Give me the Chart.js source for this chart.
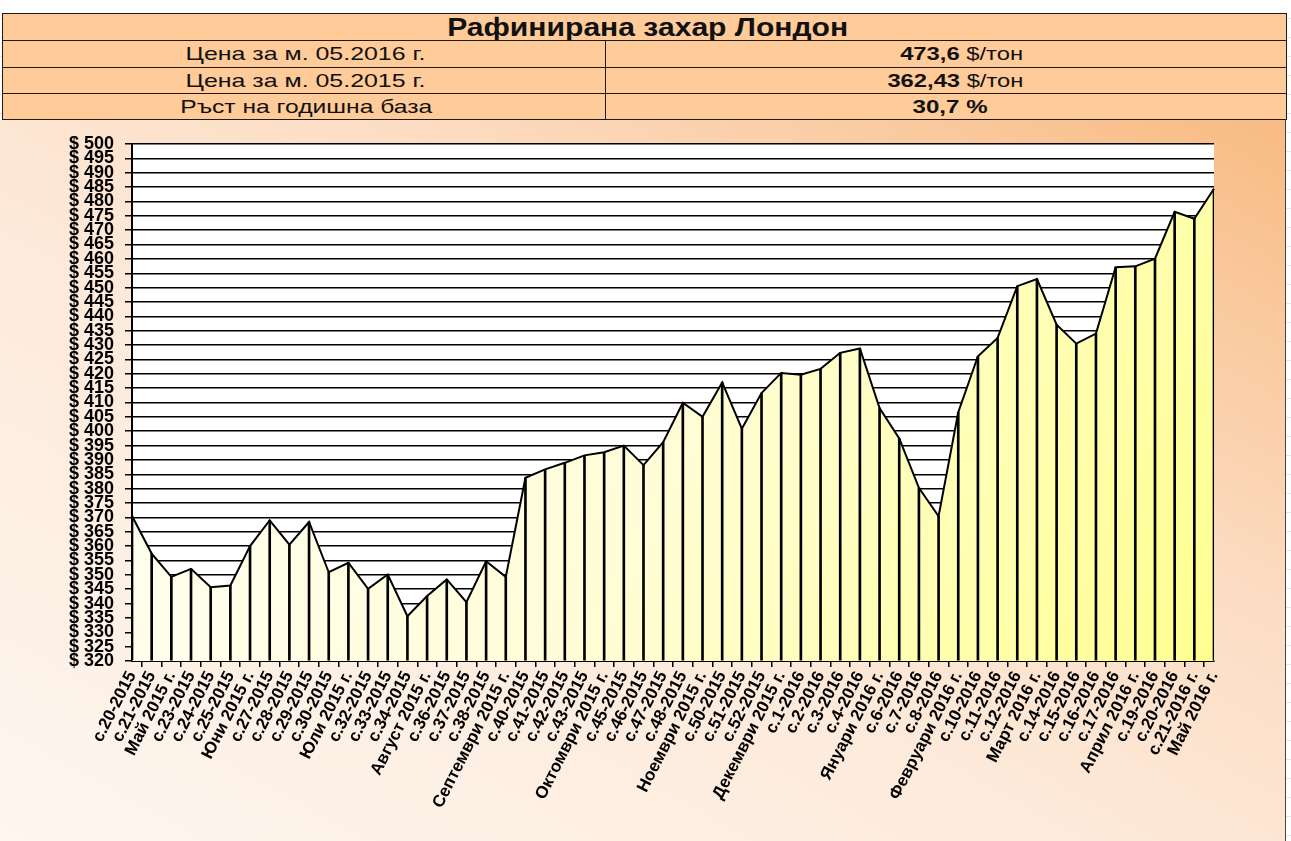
<!DOCTYPE html>
<html><head><meta charset="utf-8">
<script src="https://cdn.jsdelivr.net/npm/chart.js@4.4.1/dist/chart.umd.min.js"></script>
<style>
html,body{margin:0;padding:0;width:1291px;height:841px;overflow:hidden;font-family:"Liberation Sans",Arial,sans-serif;}
body{background:repeating-linear-gradient(to bottom,#fff 0,#fff 18px,#e6e6e6 18px,#e6e6e6 19px);}
.cell{position:absolute;box-sizing:border-box;background:#FFCB99;border:1px solid #1a1a1a;display:flex;align-items:center;justify-content:center;color:#111;overflow:visible;}
.cell span{display:inline-block;white-space:nowrap;transform-origin:center center;}
#wrap{position:absolute;left:0;top:120px;width:1285px;height:721px;border-right:1px solid #444;
 background:linear-gradient(to top right,#FEF6EF 0%,#FDEBDC 40%,#FCDDC4 65%,#F8BB82 100%);}
#c{position:absolute;left:0;top:0;}
</style></head>
<body>
<div class="cell" style="left:2px;top:13px;width:1285px;height:28px;font-weight:bold;font-size:25px;"><span data-x1="447" data-x2="848">Рафинирана захар Лондон</span></div>
<div class="cell" style="left:2px;top:40px;width:604px;height:28px;font-size:19px;"><span data-x1="185" data-x2="425">Цена за м. 05.2016 г.</span></div>
<div class="cell" style="left:605px;top:40px;width:682px;height:28px;font-size:19px;"><span data-x1="900" data-x2="1023"><b>473,6</b> $/тон</span></div>
<div class="cell" style="left:2px;top:67px;width:604px;height:27px;font-size:19px;"><span data-x1="185" data-x2="425">Цена за м. 05.2015 г.</span></div>
<div class="cell" style="left:605px;top:67px;width:682px;height:27px;font-size:19px;"><span data-x1="887" data-x2="1023"><b>362,43</b> $/тон</span></div>
<div class="cell" style="left:2px;top:93px;width:604px;height:27px;font-size:19px;"><span data-x1="180" data-x2="432">Ръст на годишна база</span></div>
<div class="cell" style="left:605px;top:93px;width:682px;height:27px;font-size:19px;"><span data-x1="913" data-x2="988"><b>30,7 %</b></span></div>
<div id="wrap"><canvas id="c" width="1285" height="721"></canvas></div>
<script>
const categories = [
 "с.20-2015","с.21-2015","Май 2015 г.","с.23-2015","с.24-2015","с.25-2015","Юни 2015 г.",
 "с.27-2015","с.28-2015","с.29-2015","с.30-2015","Юли 2015 г.","с.32-2015","с.33-2015",
 "с.34-2015","Август 2015 г.","с.36-2015","с.37-2015","с.38-2015","Септември 2015 г.",
 "с.40-2015","с.41-2015","с.42-2015","с.43-2015","Октомври 2015 г.","с.45-2015","с.46-2015",
 "с.47-2015","с.48-2015","Ноември 2015 г.","с.50-2015","с.51-2015","с.52-2015","Декември 2015 г.",
 "с.1-2016","с.2-2016","с.3-2016","с.4-2016","Януари 2016 г.","с.6-2016","с.7-2016","с.8-2016",
 "Февруари 2016 г.","с.10-2016","с.11-2016","с.12-2016","Март 2016 г.","с.14-2016","с.15-2016",
 "с.16-2016","с.17-2016","Април 2016 г.","с.19-2016","с.20-2016","с.21-2016 г.","Май 2016 г."
];
const prices = [
 370.5,357.4,349.3,352.1,345.7,346.3,360.0,369.0,360.5,368.4,350.9,354.2,345.1,350.1,
 335.6,342.6,348.4,340.5,354.7,349.3,383.8,386.7,389.0,391.6,392.7,395.0,388.2,396.2,
 409.9,405.0,417.0,400.9,413.3,420.3,419.7,421.7,427.3,428.8,408.1,397.5,380.3,370.4,
 406.6,426.1,432.5,450.5,453.0,437.1,430.5,434.0,457.1,457.4,460.1,476.4,474.0,484.4
];
const yMin = 320, yMax = 500, yStep = 5;
const FONT = "'Liberation Sans', Arial, sans-serif";

document.querySelectorAll('.cell span').forEach(s=>{
  const r = s.getBoundingClientRect();
  const x1 = +s.dataset.x1, x2 = +s.dataset.x2;
  const sc = (x2-x1)/r.width;
  const tx = (x1+x2)/2 - (r.left + r.width/2);
  s.style.transform = `translateX(${tx}px) scaleX(${sc})`;
});

const plotBg = {
  id:'plotBg',
  beforeDraw(chart){
    const {ctx, chartArea:a} = chart;
    ctx.save(); ctx.fillStyle='#fff';
    ctx.fillRect(a.left,a.top,a.right-a.left,a.bottom-a.top);
    ctx.restore();
  }
};

new Chart(document.getElementById('c'), {
  type:'line',
  data:{
    labels: categories,
    datasets:[
      {
        type:'line', data: prices, borderColor:'#000', borderWidth:2, pointRadius:0, tension:0,
        fill:'start', order:1,
        backgroundColor:(c)=>{
          const a=c.chart.chartArea; if(!a) return '#FFFFCC';
          const g=c.chart.ctx.createLinearGradient(a.left,a.top,a.right,a.bottom);
          g.addColorStop(0,'#FFFFF6'); g.addColorStop(0.5,'#FFFDD8'); g.addColorStop(1,'#FFFF90');
          return g;
        }
      },
      {
        type:'bar', data: prices, backgroundColor:'#000', barThickness:2, base:yMin, order:2
      }
    ]
  },
  options:{
    responsive:false, animation:false, devicePixelRatio:1,
    layout:{padding:{left:0,top:24,right:71,bottom:0}},
    plugins:{legend:{display:false}, tooltip:{enabled:false}, filler:{drawTime:'beforeDatasetsDraw'}},
    scales:{
      x:{
        type:'category', offset:false,
        grid:{display:true, drawOnChartArea:false, drawTicks:true, tickLength:6, color:'#000', lineWidth:1.5},
        border:{display:true, color:'#000', width:2},
        ticks:{autoSkip:false, maxRotation:63, minRotation:63, color:'#000', padding:1,
               font:{family:FONT, size:17, weight:'bold'}},
        afterFit(s){ s.height = 180; }
      },
      y:{
        min:yMin, max:yMax,
        grid:{color:'#000', lineWidth:1.5, tickLength:7, drawTicks:true},
        border:{display:true, color:'#000', width:2},
        ticks:{stepSize:yStep, autoSkip:false, color:'#000', padding:11,
               font:{family:FONT, size:18, weight:'bold', lineHeight:1.0},
               callback:(v)=>'$ '+v},
        afterFit(s){ s.width = 132; }
      }
    }
  },
  plugins:[plotBg]
});
</script>
</body></html>
